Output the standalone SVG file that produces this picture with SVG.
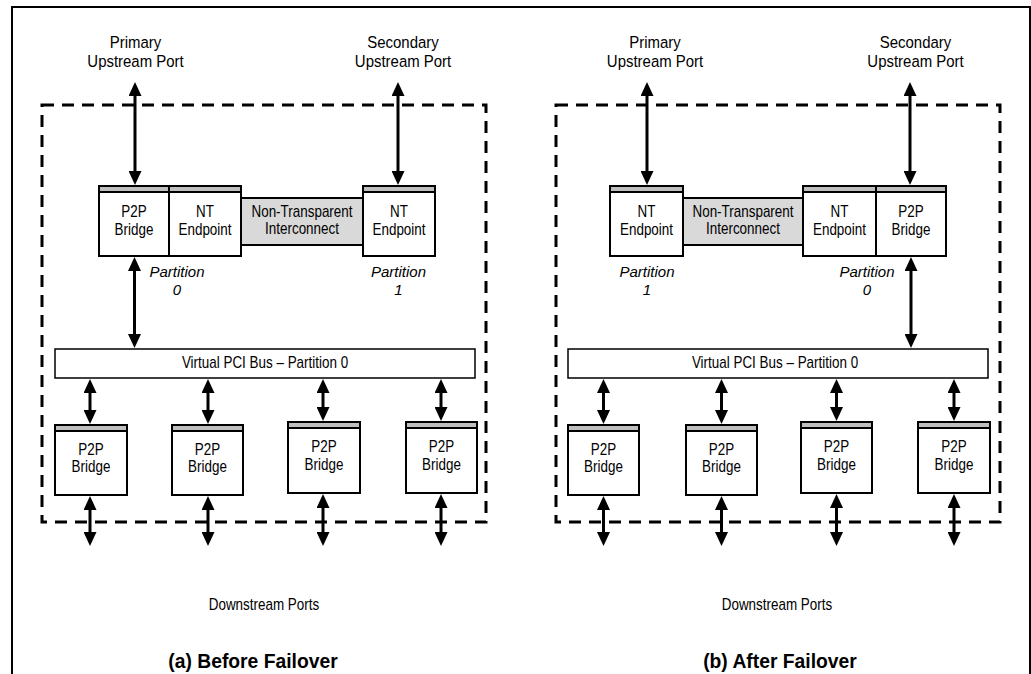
<svg xmlns="http://www.w3.org/2000/svg" width="1031" height="674" viewBox="0 0 1031 674">
<defs>
<marker id="ah" markerUnits="userSpaceOnUse" markerWidth="14" markerHeight="13" viewBox="0 0 14 13" refX="4" refY="6.5" orient="auto-start-reverse">
<path d="M0,0 L14,6.5 L0,13 z" fill="#000"/>
</marker>
<style>
.frame{fill:none;stroke:#000;stroke-width:2}
.dash{fill:none;stroke:#000;stroke-width:3;stroke-dasharray:12 8}
.box{fill:#fff;stroke:#000;stroke-width:2}
.bar{fill:#bfbfbf;stroke:#000;stroke-width:2}
.nti{fill:#d9d9d9;stroke:#000;stroke-width:2}
.bus{fill:#fff;stroke:#000;stroke-width:1.5}
.arr{stroke:#000;stroke-width:3;fill:none;marker-start:url(#ah);marker-end:url(#ah)}
text{font-family:"Liberation Sans",Arial,sans-serif;fill:#000;text-anchor:middle}
.t{font-size:16px;transform-box:fill-box;transform-origin:center;transform:scaleX(0.84)}
.p{font-size:17px;transform-box:fill-box;transform-origin:center;transform:scaleX(0.88)}
.i{font-size:15px;font-style:italic}
.ttl{font-size:21px;font-weight:bold;transform-box:fill-box;transform-origin:center;transform:scaleX(0.92)}
</style>
</defs>
<rect class="frame" x="12" y="7" width="1018" height="700"/>

<!-- Panel (a) -->
<g id="panel-a">
<rect class="dash" x="42" y="105" width="444" height="417"/>
<g id="a-primary-label"><text class="p" x="135.5" y="48">Primary</text><text class="p" x="135.5" y="67">Upstream Port</text></g>
<g id="a-secondary-label"><text class="p" x="403" y="48">Secondary</text><text class="p" x="403" y="67">Upstream Port</text></g>
<g id="a-p2p-top"><rect class="box" x="99" y="186" width="70" height="70"/><rect class="bar" x="99" y="186" width="70" height="6"/><text class="t" x="134" y="217">P2P</text><text class="t" x="134" y="235">Bridge</text></g>
<g id="a-nt-left"><rect class="box" x="169" y="186" width="72" height="70"/><rect class="bar" x="169" y="186" width="72" height="6"/><text class="t" x="205" y="217">NT</text><text class="t" x="205" y="235">Endpoint</text></g>
<g id="a-nti"><rect class="nti" x="241" y="198" width="122" height="47"/><text class="t" x="302" y="217">Non-Transparent</text><text class="t" x="302" y="234">Interconnect</text></g>
<g id="a-nt-right"><rect class="box" x="363" y="186" width="72" height="70"/><rect class="bar" x="363" y="186" width="72" height="6"/><text class="t" x="399" y="217">NT</text><text class="t" x="399" y="235">Endpoint</text></g>
<g id="a-part0"><text class="i" x="177" y="277">Partition</text><text class="i" x="177" y="295">0</text></g>
<g id="a-part1"><text class="i" x="398.5" y="277">Partition</text><text class="i" x="398.5" y="295">1</text></g>
<g id="a-bus"><rect class="bus" x="55" y="349" width="420" height="29"/><text class="t" x="265" y="368">Virtual PCI Bus – Partition 0</text></g>
<g id="a-b1"><rect class="box" x="55" y="425" width="72" height="70"/><rect class="bar" x="55" y="425" width="72" height="6"/><text class="t" x="91" y="455">P2P</text><text class="t" x="91" y="472">Bridge</text></g>
<g id="a-b2"><rect class="box" x="172" y="425" width="71" height="70"/><rect class="bar" x="172" y="425" width="71" height="6"/><text class="t" x="207.5" y="455">P2P</text><text class="t" x="207.5" y="472">Bridge</text></g>
<g id="a-b3"><rect class="box" x="288" y="422" width="72" height="71"/><rect class="bar" x="288" y="422" width="72" height="6"/><text class="t" x="324" y="452">P2P</text><text class="t" x="324" y="470">Bridge</text></g>
<g id="a-b4"><rect class="box" x="406" y="422" width="71" height="71"/><rect class="bar" x="406" y="422" width="71" height="6"/><text class="t" x="441.5" y="452">P2P</text><text class="t" x="441.5" y="470">Bridge</text></g>
<g id="a-downstream"><text class="t" x="264" y="610">Downstream Ports</text></g>
<g id="a-title"><text class="ttl" x="253" y="668">(a) Before Failover</text></g>
</g>

<!-- Panel (b) -->
<g id="panel-b">
<rect class="dash" x="556" y="105" width="444" height="417"/>
<g id="b-primary-label"><text class="p" x="655" y="48">Primary</text><text class="p" x="655" y="67">Upstream Port</text></g>
<g id="b-secondary-label"><text class="p" x="915.5" y="48">Secondary</text><text class="p" x="915.5" y="67">Upstream Port</text></g>
<g id="b-nt-left"><rect class="box" x="610" y="186" width="73" height="70"/><rect class="bar" x="610" y="186" width="73" height="6"/><text class="t" x="646.5" y="217">NT</text><text class="t" x="646.5" y="235">Endpoint</text></g>
<g id="b-nti"><rect class="nti" x="683" y="198" width="120" height="47"/><text class="t" x="743" y="217">Non-Transparent</text><text class="t" x="743" y="234">Interconnect</text></g>
<g id="b-nt-right"><rect class="box" x="803" y="186" width="73" height="70"/><rect class="bar" x="803" y="186" width="73" height="6"/><text class="t" x="839.5" y="217">NT</text><text class="t" x="839.5" y="235">Endpoint</text></g>
<g id="b-p2p-top"><rect class="box" x="876" y="186" width="70" height="70"/><rect class="bar" x="876" y="186" width="70" height="6"/><text class="t" x="911" y="217">P2P</text><text class="t" x="911" y="235">Bridge</text></g>
<g id="b-part1"><text class="i" x="647" y="277">Partition</text><text class="i" x="647" y="295">1</text></g>
<g id="b-part0"><text class="i" x="867" y="277">Partition</text><text class="i" x="867" y="295">0</text></g>
<g id="b-bus"><rect class="bus" x="568" y="349" width="420" height="29"/><text class="t" x="775" y="368">Virtual PCI Bus – Partition 0</text></g>
<g id="b-b1"><rect class="box" x="568" y="425" width="71" height="70"/><rect class="bar" x="568" y="425" width="71" height="6"/><text class="t" x="603.5" y="455">P2P</text><text class="t" x="603.5" y="472">Bridge</text></g>
<g id="b-b2"><rect class="box" x="686" y="425" width="71" height="70"/><rect class="bar" x="686" y="425" width="71" height="6"/><text class="t" x="721.5" y="455">P2P</text><text class="t" x="721.5" y="472">Bridge</text></g>
<g id="b-b3"><rect class="box" x="801" y="422" width="71" height="71"/><rect class="bar" x="801" y="422" width="71" height="6"/><text class="t" x="836.5" y="452">P2P</text><text class="t" x="836.5" y="470">Bridge</text></g>
<g id="b-b4"><rect class="box" x="918" y="422" width="72" height="71"/><rect class="bar" x="918" y="422" width="72" height="6"/><text class="t" x="954" y="452">P2P</text><text class="t" x="954" y="470">Bridge</text></g>
<g id="b-downstream"><text class="t" x="777" y="610">Downstream Ports</text></g>
<g id="b-title"><text class="ttl" x="780" y="668">(b) After Failover</text></g>
</g>

<g id="connectors">
<!-- panel a -->
<line class="arr" x1="135" y1="92" x2="135" y2="175"/>
<line class="arr" x1="398" y1="92" x2="398" y2="175"/>
<line class="arr" x1="134.5" y1="267" x2="134.5" y2="338"/>
<line class="arr" x1="90" y1="389" x2="90" y2="414"/>
<line class="arr" x1="208" y1="389" x2="208" y2="414"/>
<line class="arr" x1="323" y1="389" x2="323" y2="411"/>
<line class="arr" x1="441" y1="389" x2="441" y2="411"/>
<line class="arr" x1="90" y1="506" x2="90" y2="536"/>
<line class="arr" x1="208" y1="506" x2="208" y2="536"/>
<line class="arr" x1="323" y1="504" x2="323" y2="536"/>
<line class="arr" x1="441" y1="504" x2="441" y2="536"/>
<!-- panel b -->
<line class="arr" x1="647" y1="92" x2="647" y2="175"/>
<line class="arr" x1="910" y1="92" x2="910" y2="175"/>
<line class="arr" x1="911" y1="267" x2="911" y2="338"/>
<line class="arr" x1="603.5" y1="389" x2="603.5" y2="414"/>
<line class="arr" x1="721.5" y1="389" x2="721.5" y2="414"/>
<line class="arr" x1="836.5" y1="389" x2="836.5" y2="411"/>
<line class="arr" x1="954" y1="389" x2="954" y2="411"/>
<line class="arr" x1="603.5" y1="506" x2="603.5" y2="536"/>
<line class="arr" x1="721.5" y1="506" x2="721.5" y2="536"/>
<line class="arr" x1="836.5" y1="504" x2="836.5" y2="536"/>
<line class="arr" x1="954" y1="504" x2="954" y2="536"/>
</g>
</svg>
